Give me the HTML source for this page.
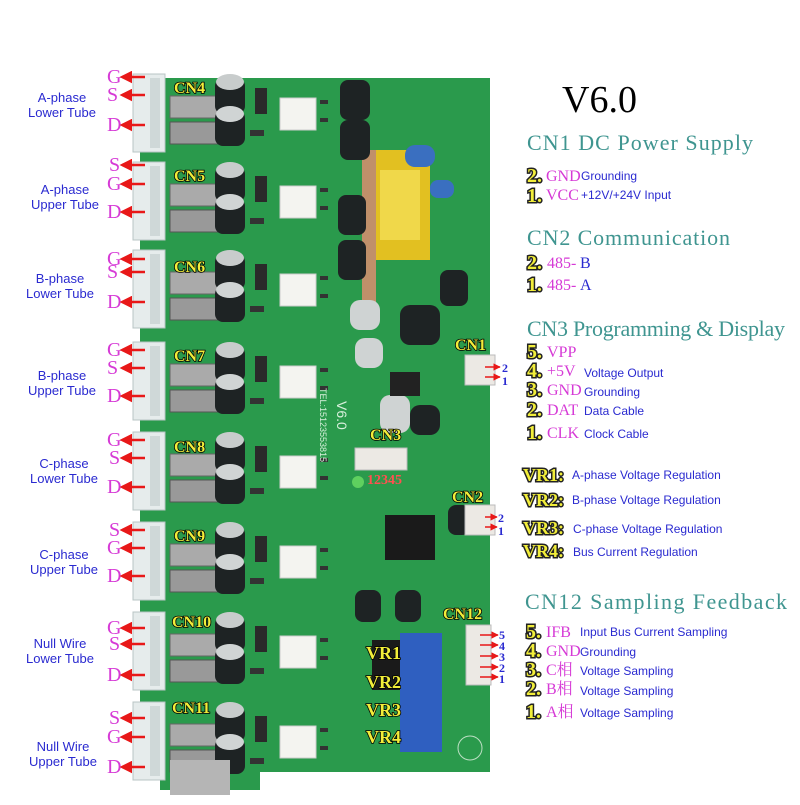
<!DOCTYPE html>
<html><head><style>
body{margin:0;background:#fff;}
svg{font-family:"Liberation Sans",sans-serif;}
.mono{font-family:"Liberation Serif",serif;}
.y{fill:#f2ee3a;stroke:#000;stroke-width:1.6;paint-order:stroke;font-family:"Liberation Serif",serif;font-weight:bold;}
.yb{fill:#f2ee3a;stroke:#222;stroke-width:3;paint-order:stroke;font-family:"Liberation Serif",serif;font-weight:bold;font-size:20px;}
.m{fill:#d63ad6;font-family:"Liberation Serif","Noto Serif CJK SC",serif;}
.b{fill:#2a2ad0;font-family:"Liberation Sans",sans-serif;}
.h{fill:#3f9590;font-family:"Liberation Serif",serif;}
</style></head><body>
<svg width="800" height="800" viewBox="0 0 800 800" xmlns="http://www.w3.org/2000/svg">
<defs>
<marker id="ar" markerWidth="5" markerHeight="5" refX="1" refY="2.5" orient="auto" markerUnits="strokeWidth"><path d="M5,0 L0,2.5 L5,5 z" fill="#e81818"/></marker>
<marker id="arr" markerWidth="5" markerHeight="5" refX="4.5" refY="2.5" orient="auto" markerUnits="strokeWidth"><path d="M0,0 L5,2.5 L0,5 z" fill="#e81818"/></marker>
<g id="row">
  <rect x="133" y="4" width="32" height="78" fill="#e6ecec" stroke="#b8c4c4"/>
  <rect x="150" y="8" width="10" height="70" fill="#cfd8d8"/>
  <rect x="170" y="26" width="52" height="22" fill="#aaa" stroke="#666"/>
  <rect x="170" y="52" width="52" height="22" fill="#999" stroke="#555"/>
  <rect x="215" y="8" width="30" height="36" rx="8" fill="#1e2324"/>
  <ellipse cx="230" cy="12" rx="14" ry="8" fill="#c8cccc"/>
  <rect x="215" y="40" width="30" height="36" rx="8" fill="#1e2324"/>
  <ellipse cx="230" cy="44" rx="14" ry="8" fill="#d0d4d4"/>
  <rect x="255" y="18" width="12" height="26" fill="#2a2a2a"/>
  <rect x="280" y="28" width="36" height="32" fill="#f4f4f0" stroke="#ccc"/>
  <rect x="250" y="60" width="14" height="6" fill="#333"/>
  <rect x="320" y="30" width="8" height="4" fill="#333"/>
  <rect x="320" y="48" width="8" height="4" fill="#333"/>
</g>
</defs>
<rect x="140" y="78" width="350" height="694" fill="#2a9a4c"/>
<rect x="160" y="760" width="100" height="30" fill="#2a9a4c"/>
<use href="#row" y="70"/>
<use href="#row" y="158"/>
<use href="#row" y="246"/>
<use href="#row" y="338"/>
<use href="#row" y="428"/>
<use href="#row" y="518"/>
<use href="#row" y="608"/>
<use href="#row" y="698"/>
<rect x="170" y="760" width="60" height="35" fill="#b5b5b5"/>
<rect x="370" y="150" width="60" height="110" fill="#e2c021"/>
<rect x="380" y="170" width="40" height="70" fill="#f0d84a"/>
<rect x="362" y="150" width="14" height="160" fill="#c0906a"/>
<rect x="405" y="145" width="30" height="22" rx="10" fill="#3a6fc0"/>
<rect x="430" y="180" width="24" height="18" rx="8" fill="#3a6fc0"/>
<rect x="340" y="80" width="30" height="40" rx="8" fill="#1e2324"/>
<rect x="340" y="120" width="30" height="40" rx="8" fill="#1e2324"/>
<rect x="338" y="195" width="28" height="40" rx="8" fill="#1e2324"/>
<rect x="338" y="240" width="28" height="40" rx="8" fill="#1e2324"/>
<rect x="440" y="270" width="28" height="36" rx="8" fill="#1e2324"/>
<rect x="400" y="305" width="40" height="40" rx="10" fill="#1e2324"/>
<rect x="350" y="300" width="30" height="30" rx="10" fill="#cfd3d3"/>
<rect x="355" y="338" width="28" height="30" rx="10" fill="#cfd3d3"/>
<rect x="380" y="395" width="30" height="38" rx="10" fill="#cfd3d3"/>
<rect x="410" y="405" width="30" height="30" rx="10" fill="#1e2324"/>
<rect x="390" y="372" width="30" height="24" fill="#222"/>
<rect x="385" y="515" width="50" height="45" fill="#1a1a1a"/>
<rect x="448" y="505" width="22" height="30" rx="8" fill="#1e2324"/>
<rect x="355" y="590" width="26" height="32" rx="8" fill="#1e2324"/>
<rect x="395" y="590" width="26" height="32" rx="8" fill="#1e2324"/>
<rect x="372" y="640" width="30" height="50" fill="#1a1a1a"/>
<rect x="400" y="633" width="42" height="30" fill="#2f5fc0"/>
<rect x="400" y="663" width="42" height="30" fill="#2f5fc0"/>
<rect x="400" y="693" width="42" height="28" fill="#2f5fc0"/>
<rect x="400" y="720" width="42" height="32" fill="#2f5fc0"/>
<circle cx="470" cy="748" r="12" fill="none" stroke="#bde0c4"/>
<rect x="465" y="355" width="30" height="30" fill="#ece9e4" stroke="#bbb"/>
<rect x="465" y="505" width="30" height="30" fill="#ece9e4" stroke="#bbb"/>
<rect x="466" y="625" width="25" height="60" fill="#ece9e4" stroke="#bbb"/>
<rect x="355" y="448" width="52" height="22" fill="#ece9e4" stroke="#bbb"/>
<circle cx="358" cy="482" r="6" fill="#5fd05f"/>
<text x="337" y="401" transform="rotate(90 337 401)" font-size="14" fill="#d8f0dc">V6.0</text>
<text x="320" y="388" transform="rotate(90 320 388)" font-size="9" fill="#d8f0dc">TEL:15123553815</text>
<g font-size="16">
<text x="174" y="93" class="y">CN4</text>
<text x="174" y="181" class="y">CN5</text>
<text x="174" y="272" class="y">CN6</text>
<text x="174" y="361" class="y">CN7</text>
<text x="174" y="452" class="y">CN8</text>
<text x="174" y="541" class="y">CN9</text>
<text x="172" y="627" class="y">CN10</text>
<text x="172" y="713" class="y">CN11</text>
<text x="455" y="350" class="y">CN1</text>
<text x="370" y="440" class="y">CN3</text>
<text x="452" y="502" class="y">CN2</text>
<text x="443" y="619" class="y">CN12</text>
</g>
<g font-size="18">
<text x="366" y="659" class="y">VR1</text>
<text x="366" y="688" class="y">VR2</text>
<text x="366" y="716" class="y">VR3</text>
<text x="366" y="743" class="y">VR4</text>
</g>
<text x="367" y="484" font-size="14" style="fill:#ff5050;font-weight:bold;font-family:'Liberation Serif',serif">12345</text>
<g font-size="20" class="m">
<text x="107" y="83">G</text><text x="107" y="101">S</text><text x="107" y="131">D</text>
<text x="109" y="171">S</text><text x="107" y="190">G</text><text x="107" y="218">D</text>
<text x="107" y="265">G</text><text x="107" y="278">S</text><text x="107" y="308">D</text>
<text x="107" y="356">G</text><text x="107" y="374">S</text><text x="107" y="402">D</text>
<text x="107" y="446">G</text><text x="109" y="464">S</text><text x="107" y="493">D</text>
<text x="109" y="536">S</text><text x="107" y="554">G</text><text x="107" y="582">D</text>
<text x="107" y="634">G</text><text x="109" y="650">S</text><text x="107" y="681">D</text>
<text x="109" y="724">S</text><text x="107" y="743">G</text><text x="107" y="773">D</text>
</g>
<g stroke="#e81818" stroke-width="2.5" marker-start="url(#ar)">
<line x1="122" y1="77" x2="145" y2="77"/><line x1="122" y1="95" x2="145" y2="95"/><line x1="122" y1="125" x2="145" y2="125"/>
<line x1="122" y1="165" x2="145" y2="165"/><line x1="122" y1="184" x2="145" y2="184"/><line x1="122" y1="212" x2="145" y2="212"/>
<line x1="122" y1="259" x2="145" y2="259"/><line x1="122" y1="272" x2="145" y2="272"/><line x1="122" y1="302" x2="145" y2="302"/>
<line x1="122" y1="350" x2="145" y2="350"/><line x1="122" y1="368" x2="145" y2="368"/><line x1="122" y1="396" x2="145" y2="396"/>
<line x1="122" y1="440" x2="145" y2="440"/><line x1="122" y1="458" x2="145" y2="458"/><line x1="122" y1="487" x2="145" y2="487"/>
<line x1="122" y1="530" x2="145" y2="530"/><line x1="122" y1="548" x2="145" y2="548"/><line x1="122" y1="576" x2="145" y2="576"/>
<line x1="122" y1="628" x2="145" y2="628"/><line x1="122" y1="644" x2="145" y2="644"/><line x1="122" y1="675" x2="145" y2="675"/>
<line x1="122" y1="718" x2="145" y2="718"/><line x1="122" y1="737" x2="145" y2="737"/><line x1="122" y1="767" x2="145" y2="767"/>
</g>
<g stroke="#e81818" stroke-width="1.5" marker-end="url(#arr)">
<line x1="485" y1="367" x2="500" y2="367"/><line x1="485" y1="377" x2="500" y2="377"/>
<line x1="485" y1="517" x2="497" y2="517"/><line x1="485" y1="527" x2="497" y2="527"/>
<line x1="480" y1="635" x2="498" y2="635"/><line x1="480" y1="645" x2="498" y2="645"/><line x1="480" y1="656" x2="498" y2="656"/><line x1="480" y1="667" x2="498" y2="667"/><line x1="480" y1="677" x2="498" y2="677"/>
</g>
<g font-size="12" style="fill:#2a2ad0;font-family:'Liberation Serif',serif;font-weight:bold">
<text x="502" y="372">2</text><text x="502" y="385">1</text>
<text x="498" y="522">2</text><text x="498" y="535">1</text>
<text x="499" y="639">5</text><text x="499" y="650">4</text><text x="499" y="661">3</text><text x="499" y="672">2</text><text x="499" y="683">1</text>
</g>
<g class="b" font-size="13" text-anchor="middle">
<text x="62" y="102">A-phase</text><text x="62" y="117">Lower Tube</text>
<text x="65" y="194">A-phase</text><text x="65" y="209">Upper Tube</text>
<text x="60" y="283">B-phase</text><text x="60" y="298">Lower Tube</text>
<text x="62" y="380">B-phase</text><text x="62" y="395">Upper Tube</text>
<text x="64" y="468">C-phase</text><text x="64" y="483">Lower Tube</text>
<text x="64" y="559">C-phase</text><text x="64" y="574">Upper Tube</text>
<text x="60" y="648">Null Wire</text><text x="60" y="663">Lower Tube</text>
<text x="63" y="751">Null Wire</text><text x="63" y="766">Upper Tube</text>
</g>
<text x="562" y="112" font-size="38" class="mono" fill="#000">V6.0</text>
<g font-size="22" class="h">
<text x="527" y="150" textLength="226" lengthAdjust="spacing">CN1 DC Power Supply</text>
<text x="527" y="245" textLength="203" lengthAdjust="spacing">CN2 Communication</text>
<text x="527" y="336" textLength="258" lengthAdjust="spacing">CN3 Programming &amp; Display</text>
<text x="525" y="609" textLength="262" lengthAdjust="spacing">CN12 Sampling Feedback</text>
</g>
<g font-size="16">
<text x="527" y="182" class="yb">2.</text><text x="546" y="181" class="m">GND</text><text x="581" y="180" class="b" font-size="12">Grounding</text>
<text x="527" y="202" class="yb">1.</text><text x="546" y="200" class="m">VCC</text><text x="581" y="199" class="b" font-size="12">+12V/+24V Input</text>
<text x="527" y="269" class="yb">2.</text><text x="547" y="268" class="m">485-</text><text x="580" y="268" style="fill:#2a2ad0;font-family:'Liberation Serif',serif">B</text>
<text x="527" y="291" class="yb">1.</text><text x="547" y="290" class="m">485-</text><text x="580" y="290" style="fill:#2a2ad0;font-family:'Liberation Serif',serif">A</text>
<text x="527" y="358" class="yb">5.</text><text x="547" y="357" class="m">VPP</text>
<text x="527" y="377" class="yb">4.</text><text x="547" y="376" class="m">+5V</text><text x="584" y="377" class="b" font-size="12">Voltage Output</text>
<text x="527" y="396" class="yb">3.</text><text x="547" y="395" class="m">GND</text><text x="584" y="396" class="b" font-size="12">Grounding</text>
<text x="527" y="416" class="yb">2.</text><text x="547" y="415" class="m">DAT</text><text x="584" y="415" class="b" font-size="12">Data Cable</text>
<text x="527" y="439" class="yb">1.</text><text x="547" y="438" class="m">CLK</text><text x="584" y="438" class="b" font-size="12">Clock Cable</text>
<text x="523" y="481" class="yb" style="font-size:18px">VR1:</text><text x="572" y="479" class="b" font-size="12">A-phase Voltage Regulation</text>
<text x="523" y="506" class="yb" style="font-size:18px">VR2:</text><text x="572" y="504" class="b" font-size="12">B-phase Voltage Regulation</text>
<text x="523" y="534" class="yb" style="font-size:18px">VR3:</text><text x="573" y="533" class="b" font-size="12">C-phase Voltage Regulation</text>
<text x="523" y="557" class="yb" style="font-size:18px">VR4:</text><text x="573" y="556" class="b" font-size="12">Bus Current Regulation</text>
<text x="526" y="638" class="yb">5.</text><text x="546" y="637" class="m">IFB</text><text x="580" y="636" class="b" font-size="12">Input Bus Current Sampling</text>
<text x="526" y="657" class="yb">4.</text><text x="546" y="656" class="m">GND</text><text x="580" y="656" class="b" font-size="12">Grounding</text>
<text x="526" y="676" class="yb">3.</text><text x="546" y="675" class="m">C相</text><text x="580" y="675" class="b" font-size="12">Voltage Sampling</text>
<text x="526" y="695" class="yb">2.</text><text x="546" y="694" class="m">B相</text><text x="580" y="695" class="b" font-size="12">Voltage Sampling</text>
<text x="526" y="718" class="yb">1.</text><text x="546" y="717" class="m">A相</text><text x="580" y="717" class="b" font-size="12">Voltage Sampling</text>
</g>
</svg>
</body></html>
